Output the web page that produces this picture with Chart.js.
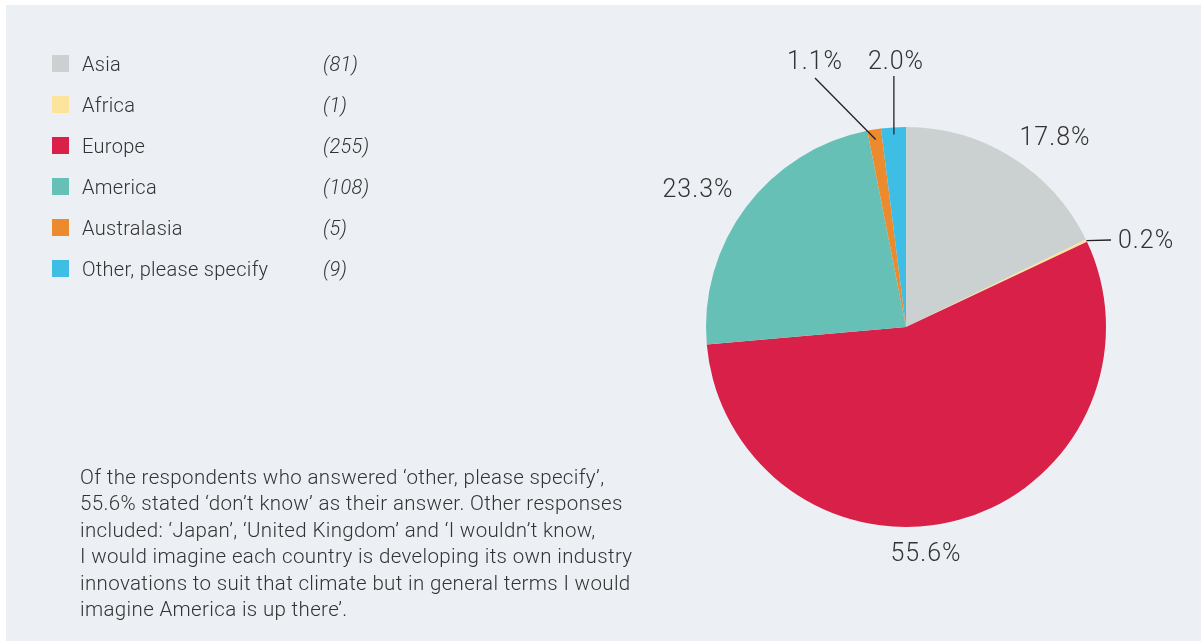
<!DOCTYPE html>
<html>
<head>
<meta charset="utf-8">
<title>Region breakdown</title>
<script src="https://cdn.jsdelivr.net/npm/chart.js@4.4.1/dist/chart.umd.min.js"></script>
<style>
  html, body { margin: 0; padding: 0; background: #ffffff; }
  #panel {
    position: absolute; left: 6px; top: 5px; width: 1195px; height: 636px;
    background: #eceff4;
  }
  #pie { position: absolute; left: 0; top: 0; }
  #legend { position: absolute; left: 52px; top: 52px; font-family: Roboto, "Liberation Sans", sans-serif; font-weight: 300; color: #333; font-size: 20px; letter-spacing: 0.3px; }
  .row { position: absolute; height: 24px; white-space: nowrap; }
  .swatch { position: absolute; left: 0; top: 3px; width: 17px; height: 17px; }
  .name { position: absolute; left: 30px; top: 0; line-height: 24px; }
  .count { position: absolute; left: 271px; top: 0; line-height: 24px; font-style: italic; }
  #note {
    position: absolute; left: 80px; top: 464px; width: 620px;
    font-family: Roboto, "Liberation Sans", sans-serif; font-weight: 300;
    font-size: 20.5px; letter-spacing: 0.35px; line-height: 26.4px; color: #333;
  }
</style>
</head>
<body>
<div id="panel"></div>
<canvas id="pie" width="1203" height="643"></canvas>
<div id="legend"></div>
<div id="note">Of the respondents who answered ‘other, please specify’,<br>55.6% stated ‘don’t know’ as their answer. Other responses<br>included: ‘Japan’, ‘United Kingdom’ and ‘I wouldn’t know,<br>I would imagine each country is developing its own industry<br>innovations to suit that climate but in general terms I would<br>imagine America is up there’.</div>

<script>
// Regions, answer counts and the share printed next to each slice
let regions = ['Asia', 'Africa', 'Europe', 'America', 'Australasia', 'Other, please specify'];
let counts = [81, 1, 255, 108, 5, 9];
let shares = [17.8, 0.2, 55.6, 23.3, 1.1, 2.0];
let colours = ['#cbd0d0', '#fde49c', '#d92048', '#66c0b6', '#ec8a2e', '#3ebee5'];

// where each percentage sits, relative to the pie centre
// line: [start as fraction of radius along slice middle, end dx, end dy]
let labelSpots = [
  { x: 149, y: -188, align: 'center' },
  { x: 212, y: -85, align: 'left', line: [1.0, 205, -87] },
  { x: 20, y: 228, align: 'center' },
  { x: -208, y: -136, align: 'center' },
  { x: -91, y: -264, align: 'center', line: [0.95, -91, -249] },
  { x: -10, y: -264, align: 'center', line: [0.965, null, -251] }
];

// legend rows
let legendEl = document.getElementById('legend');
for (let i = 0; i < regions.length; i++) {
  let row = document.createElement('div');
  row.className = 'row';
  row.style.top = (i * 41) + 'px';
  row.innerHTML = '<span class="swatch" style="background:' + colours[i] + '"></span>' +
    '<span class="name">' + regions[i] + '</span>' +
    '<span class="count">(' + counts[i] + ')</span>';
  legendEl.appendChild(row);
}

let sliceLabels = {
  id: 'sliceLabels',
  afterDatasetsDraw(chart) {
    let ctx = chart.ctx;
    let arcs = chart.getDatasetMeta(0).data;
    ctx.save();
    ctx.font = '300 25px Roboto, "Liberation Sans", sans-serif';
    ctx.letterSpacing = '1px';
    ctx.fillStyle = '#333';
    ctx.strokeStyle = '#222';
    ctx.lineWidth = 1.3;
    ctx.textBaseline = 'middle';
    arcs.forEach(function (arc, i) {
      let spot = labelSpots[i];
      let cx = arc.x, cy = arc.y;
      if (spot.line) {
        let mid = (arc.startAngle + arc.endAngle) / 2;
        let r = arc.outerRadius * spot.line[0];
        let sx = cx + Math.cos(mid) * r;
        let sy = cy + Math.sin(mid) * r;
        let ex = spot.line[1] === null ? sx : cx + spot.line[1];
        let ey = cy + spot.line[2];
        ctx.beginPath();
        ctx.moveTo(sx, sy);
        ctx.lineTo(ex, ey);
        ctx.stroke();
      }
      ctx.textAlign = spot.align;
      ctx.fillText(shares[i].toFixed(1) + '%', cx + spot.x, cy + spot.y);
    });
    ctx.restore();
  }
};

let ctx = document.getElementById('pie').getContext('2d');
let pieChart = new Chart(ctx, {
  type: 'pie',
  data: {
    labels: regions,
    datasets: [{
      data: shares,
      backgroundColor: colours,
      borderWidth: 0
    }]
  },
  options: {
    responsive: false,
    animation: false,
    layout: { padding: { left: 706, right: 97, top: 127, bottom: 116 } },
    plugins: {
      legend: { display: false },
      tooltip: { enabled: false }
    }
  },
  plugins: [sliceLabels]
});
</script>
</body>
</html>
